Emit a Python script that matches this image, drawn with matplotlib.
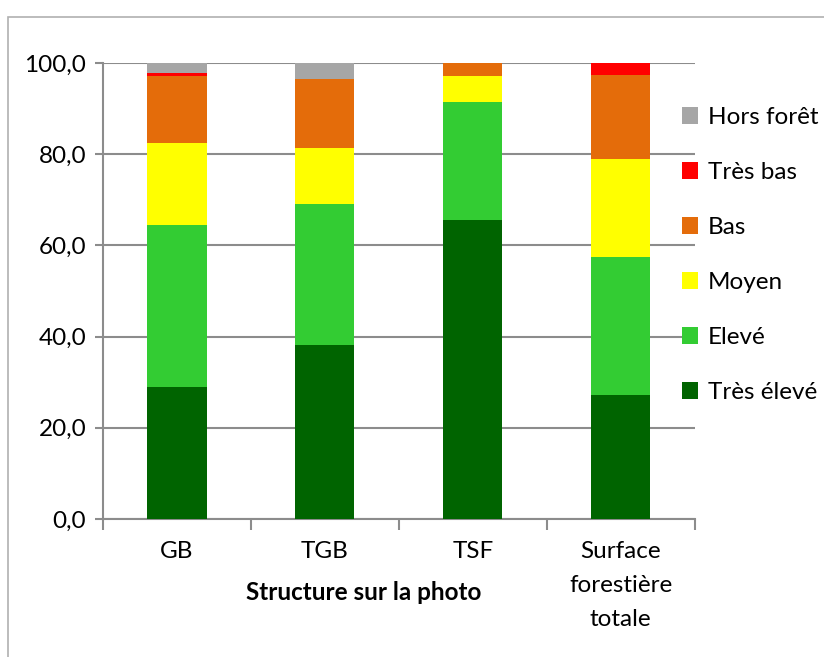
import matplotlib.pyplot as plt
from matplotlib.patches import Rectangle
import numpy as np

plt.rcParams['font.family'] = ['Lato', 'DejaVu Sans']

categories = ['GB', 'TGB', 'TSF', 'Surface\nforestière\ntotale']
tres_eleve = [29.0, 38.2, 65.6, 27.2]
eleve = [35.4, 30.8, 25.9, 30.3]
moyen = [18.1, 12.3, 5.6, 21.5]
bas = [14.7, 15.2, 2.9, 18.4]
tres_bas = [0.6, 0.0, 0.0, 2.6]
hors_foret = [2.2, 3.5, 0.0, 0.0]

series = [
    ('Très élevé', tres_eleve, '#006400'),
    ('Elevé', eleve, '#33cc33'),
    ('Moyen', moyen, '#ffff00'),
    ('Bas', bas, '#e46c0a'),
    ('Très bas', tres_bas, '#ff0000'),
    ('Hors forêt', hors_foret, '#a6a6a6'),
]

fs = 17.5

fig = plt.figure(figsize=(8.24, 6.57), dpi=100)
ax = fig.add_axes([0.125, 0.21, 0.718, 0.694])

# light frame around the whole chart, like the Excel chart area
fig.patches.append(Rectangle((8 / 824, -0.05), 1.0, 1.05 - 17 / 657, transform=fig.transFigure,
                             fill=False, edgecolor='#b0b0b0', linewidth=1.2))

x = np.arange(len(categories))
bottom = np.zeros(len(categories))
for name, vals, col in series:
    ax.bar(x, vals, 0.4, bottom=bottom, color=col, label=name, zorder=3)
    bottom += np.array(vals)

ax.set_xlim(-0.5, len(categories) - 0.5)
ax.set_ylim(0, 100)
ax.set_yticks(np.arange(0, 101, 20))
ax.set_yticklabels([f'{v:.1f}'.replace('.', ',') for v in np.arange(0, 101, 20)], fontsize=fs)
ax.yaxis.grid(True, color='#8c8c8c', linewidth=1.5, zorder=0)
ax.set_axisbelow(True)

ax.set_xticks(x)
ax.set_xticklabels(categories, fontsize=fs, linespacing=1.75, va='top')
ax.tick_params(axis='x', length=0, pad=16)
ax.set_xticks(np.arange(-0.5, len(categories), 1), minor=True)
ax.tick_params(axis='x', which='minor', length=8, width=1.5, color='#8c8c8c', direction='out')
ax.tick_params(axis='y', length=6, width=1.5, color='#8c8c8c', pad=6)

for s in ['top', 'right']:
    ax.spines[s].set_visible(False)
for s in ['left', 'bottom']:
    ax.spines[s].set_color('#8c8c8c')
    ax.spines[s].set_linewidth(1.5)

fig.text(364 / 824, 1 - 592 / 657, 'Structure sur la photo', fontsize=fs, fontweight='bold',
         ha='center', va='center')

handles, labels = ax.get_legend_handles_labels()
leg = ax.legend(handles[::-1], labels[::-1], loc='upper left', bbox_to_anchor=(0.963, 0.925),
                frameon=False, fontsize=fs, handlelength=0.65, handleheight=0.65,
                labelspacing=1.4, handletextpad=0.4, borderaxespad=0)

fig.savefig('out.png', dpi=100)
